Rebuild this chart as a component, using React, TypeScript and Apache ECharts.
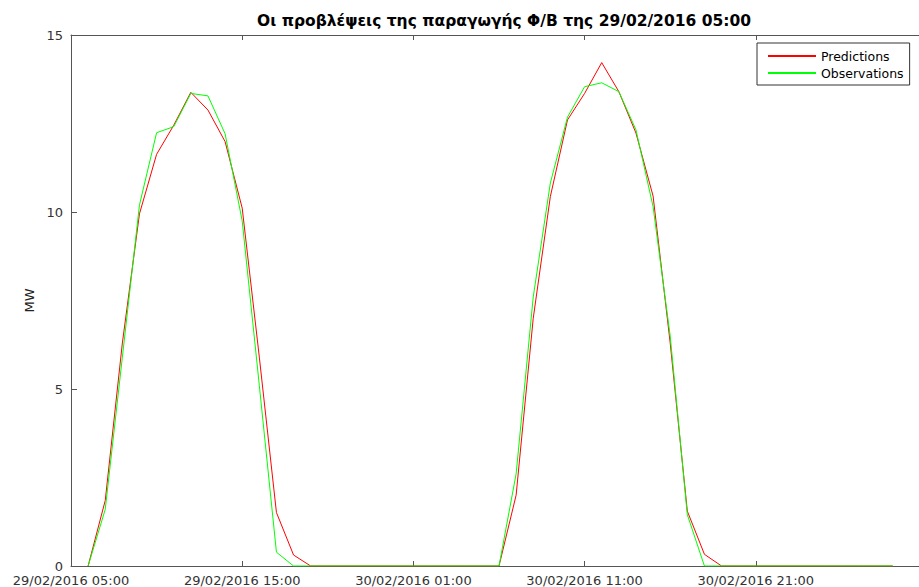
import React, { useEffect, useRef } from "react";
import * as echarts from "echarts";

// hours after 29/02/2016 05:00
const hours = [
  1, 2, 3, 4, 5, 6, 7, 8, 9, 10, 11, 12, 13, 14, 15, 16, 17, 18, 19, 20, 21, 22, 23, 24,
  25, 26, 27, 28, 29, 30, 31, 32, 33, 34, 35, 36, 37, 38, 39, 40, 41, 42, 43, 44, 45, 46, 47, 48,
];

const predictions = [
  0, 1.85, 6.3, 9.95, 11.63, 12.45, 13.38, 12.88, 11.99, 10.11, 5.9, 1.51, 0.31, 0,
  0, 0, 0, 0, 0, 0, 0, 0, 0, 0,
  0, 2.0, 7.0, 10.44, 12.6, 13.35, 14.22, 13.4, 12.23, 10.45, 6.3, 1.55, 0.33, 0,
  0, 0, 0, 0, 0, 0, 0, 0, 0, 0,
];

const observations = [
  0, 1.6, 5.9, 10.2, 12.24, 12.41, 13.35, 13.28, 12.21, 9.75, 5.1, 0.39, 0, 0,
  0, 0, 0, 0, 0, 0, 0, 0, 0, 0,
  0, 2.6, 7.6, 10.82, 12.68, 13.54, 13.65, 13.4, 12.32, 10.15, 6.5, 1.45, 0, 0,
  0, 0, 0, 0, 0, 0, 0, 0, 0, 0,
];

const xTickLabels = [
  "29/02/2016 05:00",
  "29/02/2016 15:00",
  "30/02/2016 01:00",
  "30/02/2016 11:00",
  "30/02/2016 21:00",
];

const titleText = "Οι προβλέψεις της παραγωγής Φ/Β της 29/02/2016 05:00";
const yName = "MW";
const seriesNames = ["Predictions", "Observations"];

const FONT = "DejaVu Sans";
const AXIS = "#555555";

export default function App() {
  const ref = useRef<HTMLDivElement>(null);

  useEffect(() => {
    if (!ref.current) return;
    const chart = echarts.init(ref.current, null, { renderer: "svg" });
    const axisCommon = {
      type: "value" as const,
      min: 0,
      max: 50,
      interval: 10,
      axisLine: { show: true, lineStyle: { color: AXIS, width: 1 } },
      axisTick: { show: true, inside: true, length: 5, lineStyle: { color: AXIS } },
      splitLine: { show: false },
    };
    chart.setOption({
      animation: false,
      backgroundColor: "#ffffff",
      title: {
        text: titleText,
        left: 499,
        textAlign: "center",
        top: 8,
        textStyle: { fontFamily: FONT, fontSize: 15.5, fontWeight: "bold", color: "#000" },
      },
      legend: {
        orient: "vertical",
        left: 757,
        top: 43,
        padding: [6, 6, 5, 11],
        itemGap: 3,
        itemWidth: 48,
        itemHeight: 2,
        icon: "rect",
        borderColor: "#333",
        borderWidth: 1,
        backgroundColor: "#fff",
        textStyle: { fontFamily: FONT, fontSize: 12.5, color: "#000", lineHeight: 14 },
        data: seriesNames,
      },
      grid: { left: 71, top: 35, width: 856, height: 532 },
      xAxis: [
        {
          ...axisCommon,
          position: "bottom",
          axisLabel: {
            show: true,
            margin: 8,
            color: "#333",
            fontFamily: FONT,
            fontSize: 13,
            formatter: (v: number) => xTickLabels[Math.round(v / 10)] ?? "",
          },
        },
        {
          ...axisCommon,
          position: "top",
          axisLabel: { show: false },
        },
      ],
      yAxis: {
        type: "value",
        min: 0,
        max: 15,
        interval: 5,
        name: yName,
        nameLocation: "middle",
        nameGap: 32,
        nameTextStyle: { fontFamily: FONT, fontSize: 13, color: "#222" },
        axisLine: { show: true, lineStyle: { color: AXIS, width: 1 } },
        axisTick: { show: true, inside: true, length: 6, lineStyle: { color: AXIS } },
        axisLabel: { margin: 8, color: "#333", fontFamily: FONT, fontSize: 13 },
        splitLine: { show: false },
      },
      series: [
        {
          name: seriesNames[0],
          type: "line",
          data: hours.map((h, i) => [h, predictions[i]]),
          showSymbol: false,
          symbol: "none",
          color: "#ff0000",
          lineStyle: { color: "#ff0000", width: 1 },
        },
        {
          name: seriesNames[1],
          type: "line",
          data: hours.map((h, i) => [h, observations[i]]),
          showSymbol: false,
          symbol: "none",
          color: "#00ff00",
          lineStyle: { color: "#00ff00", width: 1 },
        },
      ],
    });
    return () => chart.dispose();
  }, []);

  return (
    <div
      style={{ position: "fixed", left: 0, top: 0, width: 919, height: 587, overflow: "hidden", background: "#fff" }}
    >
      <div ref={ref} style={{ width: 940, height: 587 }} />
    </div>
  );
}
